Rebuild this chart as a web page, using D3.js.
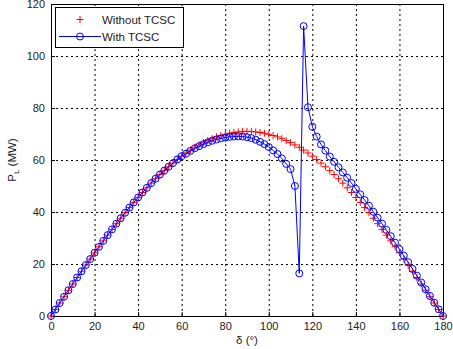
<!DOCTYPE html>
<html>
<head>
<meta charset="UTF-8">
<script src="https://d3js.org/d3.v7.min.js"></script>
<style>
  body { margin: 0; background: #fff; }
  svg { display: block; font-family: Arial, "Liberation Sans", sans-serif; }
</style>
</head>
<body>
<svg id="chart"></svg>
<script>
// load angle in degrees (same grid for both series)
const delta = d3.range(0, 181, 2);

// P_L without TCSC (MW)
const withoutTCSC = [
  0, 2.5, 5.0, 7.4, 9.9, 12.3, 14.8, 17.2, 19.6, 21.9,
  24.3, 26.6, 28.9, 31.1, 33.3, 35.5, 37.6, 39.7, 41.7, 43.7,
  45.6, 47.5, 49.3, 51.1, 52.8, 54.4, 55.9, 57.4, 58.8, 60.2,
  61.5, 62.7, 63.8, 64.9, 65.8, 66.7, 67.5, 68.2, 68.9, 69.4,
  69.9, 70.3, 70.6, 70.8, 71.0, 71.0, 71.0, 70.8, 70.6, 70.3,
  69.9, 69.4, 68.9, 68.2, 67.5, 66.7, 65.8, 64.9, 63.8, 62.7,
  61.5, 60.2, 58.8, 57.4, 55.9, 54.4, 52.8, 51.1, 49.3, 47.5,
  45.6, 43.7, 41.7, 39.7, 37.6, 35.5, 33.3, 31.1, 28.9, 26.6,
  24.3, 21.9, 19.6, 17.2, 14.8, 12.3, 9.9, 7.4, 5.0, 2.5, 0
];

// P_L with TCSC (MW)
const withTCSC = [
  0, 2.5, 5.0, 7.4, 9.9, 12.3, 14.8, 17.2, 19.6, 21.9,
  24.3, 26.6, 28.9, 31.1, 33.3, 35.5, 37.6, 39.7, 41.7, 43.7,
  45.6, 47.5, 49.3, 51.1, 52.8, 54.4, 55.9, 57.4, 58.8, 60.2,
  61.5, 62.4, 63.5, 64.5, 65.3, 66.1, 66.8, 67.4, 67.9, 68.3,
  68.6, 68.9, 69.0, 69.1, 69.0, 68.8, 68.4, 67.8, 67.0, 66.1,
  65.0, 63.7, 62.3, 60.6, 58.5, 56.5, 50.0, 16.4, 111.5, 80.3,
  72.8, 69.0, 66.0, 63.6, 61.3, 59.3, 57.2, 55.2, 53.2, 51.1,
  48.9, 46.8, 44.6, 42.4, 40.1, 37.8, 35.5, 33.1, 30.7, 28.2,
  25.7, 23.2, 20.7, 18.1, 15.5, 12.9, 10.3, 7.7, 5.1, 2.6, 0
];

const xTicks = [0, 20, 40, 60, 80, 100, 120, 140, 160, 180];
const yTicks = [0, 20, 40, 60, 80, 100, 120];
const seriesNames = ["Without TCSC", "With TCSC"];

const W = 453, H = 349;
const margin = { left: 51, right: 10, top: 4, bottom: 33 };
const iw = W - margin.left - margin.right;
const ih = H - margin.top - margin.bottom;

const svg = d3.select("#chart").attr("width", W).attr("height", H);
svg.append("rect").attr("width", W).attr("height", H).attr("fill", "#fff");

const g = svg.append("g").attr("transform", `translate(${margin.left},${margin.top})`);

const x = d3.scaleLinear().domain([0, 180]).range([0, iw]);
const y = d3.scaleLinear().domain([0, 120]).range([ih, 0]);

// dotted grid
g.append("g").selectAll("line").data(xTicks.slice(1, -1)).join("line")
  .attr("x1", d => x(d) + 0.5).attr("x2", d => x(d) + 0.5)
  .attr("y1", 0).attr("y2", ih)
  .attr("stroke", "#000").attr("stroke-width", 1).attr("stroke-dasharray", "2,3");
g.append("g").selectAll("line").data(yTicks.slice(1, -1)).join("line")
  .attr("x1", 0).attr("x2", iw)
  .attr("y1", d => y(d) + 0.5).attr("y2", d => y(d) + 0.5)
  .attr("stroke", "#000").attr("stroke-width", 1).attr("stroke-dasharray", "2,3");

// axes
const xAxis = g.append("g").attr("transform", `translate(0,${ih})`)
  .call(d3.axisBottom(x).tickValues(xTicks).tickSize(-4).tickPadding(6));
const yAxis = g.append("g")
  .call(d3.axisLeft(y).tickValues(yTicks).tickSize(-4).tickPadding(6));
[xAxis, yAxis].forEach(a => {
  a.select(".domain").remove();
  a.selectAll("text").attr("font-size", 11).attr("fill", "#222")
    .attr("font-family", "Arial, 'Liberation Sans', sans-serif");
  a.selectAll("line").attr("stroke", "#000");
});

// frame
g.append("rect").attr("x", 0.5).attr("y", 0.5).attr("width", iw).attr("height", ih)
  .attr("fill", "none").attr("stroke", "#000").attr("stroke-width", 1);

const plot = g.append("g");

// red + markers (no line)
const plus = d3.symbol().type(d3.symbolCross);
plot.append("g").selectAll("path").data(delta).join("path")
  .attr("d", d => {
    const s = 3.5;
    return `M${-s},0H${s}M0,${-s}V${s}`;
  })
  .attr("transform", (d, i) => `translate(${x(d)},${y(withoutTCSC[i])})`)
  .attr("stroke", "#ff0000").attr("stroke-width", 1).attr("fill", "none");

// blue line with circles
const line = d3.line().x((d, i) => x(delta[i])).y(d => y(d));
plot.append("path").datum(withTCSC).attr("d", line)
  .attr("fill", "none").attr("stroke", "#0000ff").attr("stroke-width", 1);
plot.append("g").selectAll("circle").data(withTCSC).join("circle")
  .attr("cx", (d, i) => x(delta[i])).attr("cy", d => y(d)).attr("r", 3.5)
  .attr("fill", "none").attr("stroke", "#0000ff").attr("stroke-width", 1);

// legend
const lg = g.append("g").attr("transform", "translate(4,3)");
lg.append("rect").attr("x", 0.5).attr("y", 0.5).attr("width", 128).attr("height", 40)
  .attr("fill", "#fff").attr("stroke", "#000");
lg.append("path").attr("d", "M21.5,12.5H28.5M25,9V16")
  .attr("stroke", "#ff0000").attr("fill", "none");
lg.append("line").attr("x1", 4).attr("x2", 46).attr("y1", 29.5).attr("y2", 29.5)
  .attr("stroke", "#0000ff");
lg.append("circle").attr("cx", 25).attr("cy", 29.5).attr("r", 3.5)
  .attr("fill", "none").attr("stroke", "#0000ff");
lg.selectAll("text.lab").data(seriesNames).join("text").attr("class", "lab")
  .attr("x", 47).attr("y", (d, i) => 13 + i * 17).attr("dy", "0.35em")
  .attr("font-size", 11.5).attr("fill", "#222").text(d => d);

// axis titles
svg.append("text").attr("x", margin.left + x(90)).attr("y", 344)
  .attr("text-anchor", "middle").attr("font-size", 11.5).attr("fill", "#222")
  .text("δ (°)");
const yl = svg.append("text")
  .attr("transform", `translate(16,${margin.top + y(60)}) rotate(-90)`)
  .attr("text-anchor", "middle").attr("font-size", 11.5).attr("fill", "#222");
yl.append("tspan").text("P");
yl.append("tspan").attr("font-size", 8).attr("dy", 3).text("L");
yl.append("tspan").attr("dy", -3).text(" (MW)");
</script>
</body>
</html>
